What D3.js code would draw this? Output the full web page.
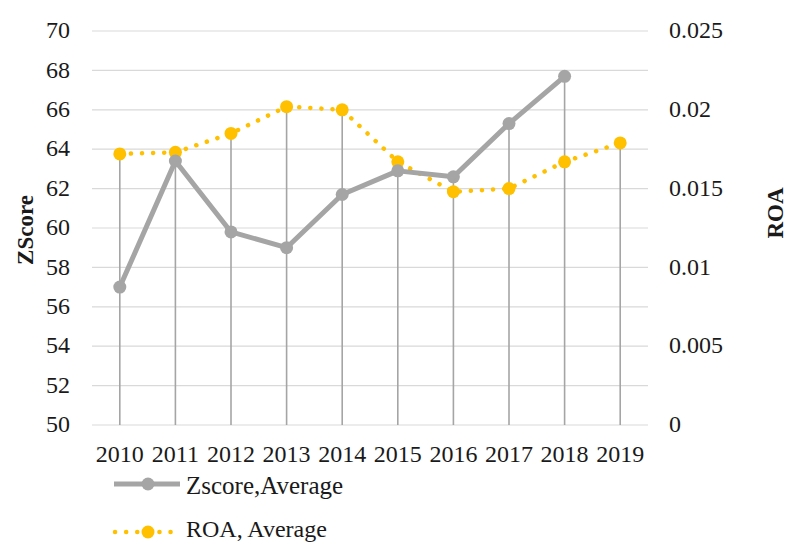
<!DOCTYPE html>
<html><head><meta charset="utf-8">
<script src="https://cdn.jsdelivr.net/npm/d3@7"></script>
<style>body{margin:0;background:#fff;} text{font-family:"Liberation Serif","Times New Roman",serif;fill:#1a1a1a;}</style>
</head><body>
<svg id="c" width="787" height="543"></svg>
<script>
const years = ["2010","2011","2012","2013","2014","2015","2016","2017","2018","2019"];
const zscore = [57.0,63.4,59.8,59.0,61.7,62.9,62.6,65.3,67.7,null];
const roa = [0.0172,0.0173,0.0185,0.0202,0.0200,0.0167,0.0148,0.0150,0.0167,0.0179];
const leftTicks = [50,52,54,56,58,60,62,64,66,68,70];
const rightTicks = [0,0.005,0.01,0.015,0.02,0.025];

const svg = d3.select("#c");
const x = d3.scaleBand().domain(years).range([92,648]);
const yL = d3.scaleLinear().domain([50,70]).range([425,31]);
const yR = d3.scaleLinear().domain([0,0.025]).range([425,31]);
const cx = d => x(d)+x.bandwidth()/2;
const FS = 24;

// gridlines
svg.append("g").selectAll("line").data(leftTicks).join("line")
  .attr("x1",92).attr("x2",648).attr("y1",d=>yL(d)).attr("y2",d=>yL(d))
  .attr("stroke","#d9d9d9").attr("stroke-width",1.2);

// left axis
const gl = svg.append("g").attr("transform","translate(70,0)")
  .call(d3.axisLeft(yL).tickValues(leftTicks).tickSize(0).tickPadding(0));
gl.select(".domain").remove();
gl.selectAll("text").attr("font-size",FS).attr("x",0).attr("dy","0.28em").attr("font-family","Liberation Serif").attr("fill","#1a1a1a");

// right axis
const gr = svg.append("g").attr("transform","translate(669,0)")
  .call(d3.axisRight(yR).tickValues(rightTicks).tickSize(0).tickPadding(0).tickFormat(d=>d3.format("")(+d.toFixed(3))));
gr.select(".domain").remove();
gr.selectAll("text").attr("font-size",FS).attr("x",0).attr("dy","0.28em").attr("font-family","Liberation Serif").attr("fill","#1a1a1a");

// x axis labels
const gx = svg.append("g").attr("transform","translate(0,425)")
  .call(d3.axisBottom(x).tickSize(0).tickPadding(20));
gx.select(".domain").remove();
gx.selectAll("text").attr("font-size",FS).attr("font-family","Liberation Serif").attr("fill","#1a1a1a");

// drop lines
svg.append("g").selectAll("line").data(years).join("line")
  .attr("x1",d=>cx(d)).attr("x2",d=>cx(d))
  .attr("y1",(d,i)=>Math.min(zscore[i]==null?999:yL(zscore[i]), yR(roa[i])))
  .attr("y2",425).attr("stroke","#a5a5a5").attr("stroke-width",1.6);

// ROA line
const lineR = d3.line().x((d,i)=>cx(years[i])).y(d=>yR(d));
svg.append("path").datum(roa).attr("d",lineR).attr("fill","none")
  .attr("stroke","#ffc000").attr("stroke-width",4.5).attr("stroke-linecap","round")
  .attr("stroke-dasharray","0.1 11");
svg.append("g").selectAll("circle").data(roa).join("circle")
  .attr("cx",(d,i)=>cx(years[i])).attr("cy",d=>yR(d)).attr("r",6.5).attr("fill","#ffc000");

// Zscore line
const lineL = d3.line().defined(d=>d!=null).x((d,i)=>cx(years[i])).y(d=>yL(d));
svg.append("path").datum(zscore).attr("d",lineL).attr("fill","none")
  .attr("stroke","#a5a5a5").attr("stroke-width",5).attr("stroke-linejoin","round");
svg.append("g").selectAll("circle").data(zscore.map((v,i)=>[v,i]).filter(d=>d[0]!=null)).join("circle")
  .attr("cx",d=>cx(years[d[1]])).attr("cy",d=>yL(d[0])).attr("r",6.5).attr("fill","#a5a5a5");

// axis titles
svg.append("text").attr("transform","translate(33,230) rotate(-90)").attr("text-anchor","middle")
  .attr("font-size",23).attr("font-weight","bold").text("ZScore");
svg.append("text").attr("transform","translate(783,213) rotate(-90)").attr("text-anchor","middle")
  .attr("font-size",23).attr("font-weight","bold").text("ROA");

// legend
const lg = svg.append("g");
lg.append("line").attr("x1",114).attr("x2",180).attr("y1",484).attr("y2",484)
  .attr("stroke","#a5a5a5").attr("stroke-width",5);
lg.append("circle").attr("cx",148).attr("cy",484).attr("r",6.5).attr("fill","#a5a5a5");
lg.append("text").attr("x",186).attr("y",494).attr("font-size",25).text("Zscore,Average");
lg.append("line").attr("x1",115).attr("x2",178).attr("y1",532).attr("y2",532)
  .attr("stroke","#ffc000").attr("stroke-width",4.5).attr("stroke-linecap","round").attr("stroke-dasharray","0.1 11");
lg.append("circle").attr("cx",148).attr("cy",532).attr("r",6.5).attr("fill","#ffc000");
lg.append("text").attr("x",186).attr("y",537).attr("font-size",24).text("ROA, Average");
</script>
</body></html>
